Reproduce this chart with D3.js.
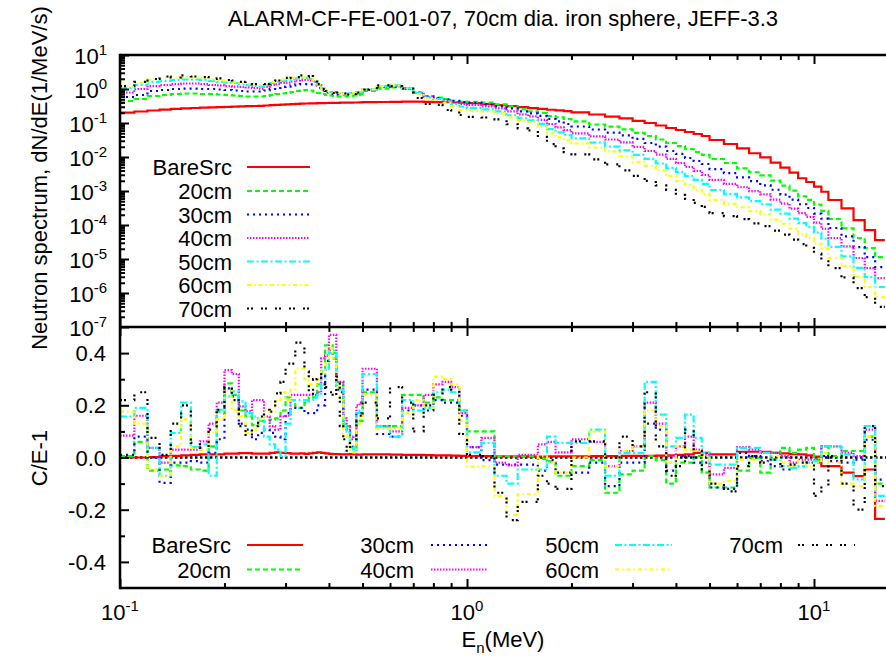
<!DOCTYPE html>
<html><head><meta charset="utf-8">
<script src="https://cdn.jsdelivr.net/npm/d3@7"></script>
<style>
body{margin:0;background:#fff}
text{font-family:"Liberation Sans",Arial,Helvetica,sans-serif;fill:#000}
</style>
</head><body>
<svg id="c" width="886" height="660"></svg>
<script>
// ---------------- DATA ----------------
const title = "ALARM-CF-FE-001-07, 70cm dia. iron sphere, JEFF-3.3";
const seriesNames = ["BareSrc","20cm","30cm","40cm","50cm","60cm","70cm"];
// energy bin edges (MeV)
const edges = [0.10,0.11,0.12,0.13,0.14,0.15,0.16,0.17,0.18,0.19,
0.20,0.21,0.22,0.23,0.24,0.25,0.26,0.27,0.28,0.29,
0.30,0.31,0.32,0.33,0.34,0.35,0.36,0.37,0.38,0.39,
0.40,0.41,0.42,0.43,0.44,0.45,0.46,0.47,0.48,0.49,
0.50,0.55,0.60,0.65,0.70,0.75,0.80,0.85,0.90,0.95,
1.0,1.1,1.2,1.3,1.4,1.5,1.6,1.7,1.8,1.9,
2.0,2.25,2.5,2.75,3.0,3.25,3.5,3.75,4.0,4.25,4.5,4.75,
5.0,5.5,6.0,6.5,7.0,7.5,8.0,8.5,9.0,9.5,
10,10.5,11,12,13,14,15,16];

// neutron spectrum dN/dE (1/MeV/s), one value per bin
const specBareSrc = [0.201,0.218,0.233,0.249,0.261,0.27,0.276,0.282,0.288,0.294,0.3,0.304,0.308,0.312,0.316,0.32,0.327,0.334,0.34,0.348,0.355,0.36,0.365,0.37,0.375,0.378,0.38,0.383,0.385,0.388,0.39,0.393,0.393,0.395,0.395,0.398,0.398,0.401,0.401,0.404,
0.41,0.415,0.42,0.424,0.424,0.418,0.412,0.407,0.401,0.398,
0.385,0.36,0.335,0.315,0.295,0.275,0.26,0.245,0.235,0.222,
0.204,0.178,0.155,0.136,0.115,0.100,0.0844,0.0713,0.0622,0.0543,0.0474,0.0415,
0.0316,0.0241,0.018,0.0129,0.0098,0.0068,0.00484,0.00345,0.00237,0.00184,
0.00134,0.00095,0.000543,0.000309,0.00014,7.1e-5,3.6e-5];
const spec20cm = [0.444,0.508,0.622,0.666,0.713,0.737,0.737,0.713,0.713,0.689,0.666,0.644,0.622,0.602,0.602,0.602,0.622,0.666,0.713,0.737,0.763,0.816,0.873,0.903,0.935,0.903,0.844,0.763,0.713,0.666,0.644,0.622,0.602,0.602,0.602,0.622,0.622,0.644,0.666,0.689,
0.873,1.03,1.11,1.0,0.763,0.622,0.562,0.508,0.459,0.429,
0.42,0.40,0.353,0.31,0.253,0.22,0.198,0.16,0.146,0.131,
0.111,0.0904,0.0787,0.0646,0.0511,0.0415,0.0327,0.0258,0.021,0.0172,0.014,0.0115,
0.00872,0.00665,0.00464,0.00356,0.0029,0.00201,0.00143,0.00102,0.000702,0.000545,
0.000397,0.000262,0.00015,7.97e-5,4.14e-5,2.1e-5,1.14e-5];
const spec30cm = [0.582,0.666,0.873,0.935,1.0,1.03,1.03,1.0,1.0,0.967,0.935,0.903,0.873,0.844,0.844,0.844,0.903,1.0,1.07,1.15,1.18,1.27,1.36,1.40,1.40,1.36,1.27,1.07,0.903,0.789,0.737,0.713,0.689,0.689,0.689,0.713,0.713,0.737,0.737,0.763,
0.935,1.15,1.18,1.03,0.789,0.602,0.544,0.491,0.444,0.415,
0.39,0.35,0.309,0.271,0.221,0.193,0.162,0.131,0.112,0.0934,
0.079,0.0644,0.0524,0.043,0.034,0.0258,0.0203,0.015,0.0123,0.00934,0.00763,0.00623,
0.00442,0.00337,0.00252,0.00194,0.00147,0.00109,0.00078,0.000555,0.000408,0.000316,
0.000216,0.000153,8.15e-5,4.64e-5,2.25e-5,1.14e-5,5.8e-6];
const spec40cm = [0.789,1.0,1.22,1.31,1.40,1.45,1.45,1.40,1.31,1.27,1.22,1.18,1.15,1.11,1.07,1.03,1.15,1.31,1.40,1.50,1.55,1.66,1.78,1.84,1.84,1.78,1.61,1.31,1.03,0.873,0.816,0.789,0.763,0.737,0.737,0.737,0.763,0.763,0.789,0.789,
0.967,1.18,1.22,1.07,0.789,0.582,0.526,0.475,0.415,0.362,
0.34,0.306,0.269,0.221,0.18,0.157,0.124,0.0929,0.0743,0.0621,
0.0492,0.0402,0.0327,0.0268,0.0198,0.015,0.0118,0.00877,0.00666,0.00508,0.00387,0.00296,
0.00211,0.00161,0.00129,0.000986,0.000801,0.000556,0.000424,0.000302,0.000222,0.000172,
0.000117,7.76e-5,4.15e-5,2.36e-5,1.07e-5,5.4e-6,2.75e-6];
const spec50cm = [1.07,1.31,1.61,1.72,1.84,1.90,1.90,1.84,1.72,1.61,1.55,1.50,1.40,1.31,1.22,1.18,1.31,1.50,1.61,1.72,1.78,1.90,2.04,2.11,2.11,1.97,1.72,1.36,1.03,0.873,0.816,0.789,0.763,0.737,0.737,0.737,0.763,0.763,0.789,0.789,
0.967,1.22,1.27,1.07,0.763,0.562,0.508,0.429,0.362,0.306,
0.278,0.25,0.22,0.169,0.138,0.12,0.0941,0.0662,0.0531,0.0443,
0.0351,0.0267,0.0203,0.0156,0.0115,0.00875,0.00645,0.00476,0.00363,0.00276,0.00211,0.00161,
0.00107,0.00082,0.000653,0.000502,0.000408,0.000283,0.000215,0.000154,0.000113,8.76e-5,
5.96e-5,3.95e-5,2.26e-5,1.2e-5,5.45e-6,2.95e-6,1.5e-6];
const spec60cm = [1.18,1.50,1.90,2.04,2.18,2.25,2.18,2.04,1.90,1.78,1.66,1.61,1.50,1.40,1.36,1.31,1.40,1.61,1.78,1.90,1.97,2.11,2.18,2.25,2.25,2.11,1.78,1.36,1.03,0.873,0.816,0.789,0.763,0.737,0.713,0.713,0.737,0.763,0.763,0.789,
0.967,1.22,1.27,1.03,0.713,0.544,0.475,0.388,0.306,0.241,
0.227,0.218,0.192,0.147,0.12,0.104,0.077,0.0506,0.0378,0.0315,
0.0251,0.019,0.0145,0.0104,0.00718,0.00545,0.00402,0.00277,0.00197,0.0015,0.00107,0.000822,
0.000547,0.000417,0.000333,0.000255,0.000208,0.000144,0.000109,7.8e-5,5.36e-5,4.16e-5,
2.84e-5,2.01e-5,1.08e-5,6.1e-6,2.97e-6,1.5e-6,7.6e-7];
const spec70cm = [1.22,1.61,1.97,2.33,2.18,2.50,2.33,2.25,1.97,2.04,1.84,1.78,1.61,1.66,1.40,1.45,1.40,1.72,1.78,2.11,2.11,2.33,2.25,2.50,2.25,2.41,1.84,1.40,1.0,0.873,0.816,0.763,0.789,0.713,0.737,0.689,0.763,0.713,0.789,0.763,
0.967,1.27,1.22,1.03,0.544,0.362,0.34,0.241,0.233,0.172,
0.151,0.145,0.128,0.0918,0.0699,0.061,0.039,0.024,0.018,0.014,
0.0119,0.00847,0.00603,0.00404,0.00278,0.00198,0.00146,0.00108,0.000765,0.000581,0.000446,0.00034,
0.000224,0.000183,0.000148,0.000112,9.21e-5,6.8e-5,5.18e-5,3.69e-5,2.73e-5,2.12e-5,
1.43e-5,9.5e-6,5.4e-6,2.9e-6,1.4e-6,7.6e-7,3.9e-7];

// C/E-1, one value per bin
const ceBareSrc = [0.0,0.0,0.002,0.005,0.006,0.008,0.01,0.012,0.012,0.012,
0.015,0.015,0.017,0.017,0.015,0.015,0.015,0.018,0.02,0.018,
0.017,0.015,0.015,0.016,0.014,0.016,0.018,0.02,0.018,0.016,
0.014,0.013,0.013,0.012,0.012,0.012,0.013,0.012,0.011,0.011,
0.012,0.012,0.011,0.01,0.01,0.009,0.008,0.008,0.007,0.006,
0.005,0.005,0.004,0.004,0.004,0.003,0.003,0.004,0.004,0.004,
0.004,0.005,0.005,0.006,0.006,0.006,0.007,0.008,0.01,0.012,0.018,0.018,
0.012,0.012,0.022,0.022,0.022,0.018,0.016,0.013,0.012,0.008,
0.003,-0.033,-0.033,-0.058,-0.071,-0.046,-0.235];
const ce20cm = [0.005,0.06,-0.05,-0.046,-0.03,-0.033,-0.046,-0.05,0.043,0.176,
0.284,0.24,0.18,0.157,0.124,0.14,0.138,0.145,0.15,0.18,
0.23,0.22,0.19,0.19,0.21,0.23,0.23,0.28,0.28,0.43,
0.43,0.40,0.29,0.29,0.13,0.12,0.04,0.03,0.14,0.14,
0.25,0.12,0.12,0.24,0.24,0.21,0.23,0.22,0.22,0.18,
0.10,0.10,0.005,0.005,0.005,0.005,-0.005,-0.015,-0.07,-0.07,
-0.033,-0.01,-0.135,-0.065,-0.05,0.005,-0.01,-0.1,-0.02,-0.02,0.005,-0.058,
-0.115,-0.115,-0.05,-0.001,-0.058,0.018,0.037,0.018,0.03,0.037,
-0.008,0.043,0.005,0.025,0.025,0.08,-0.1];
const ce30cm = [0.01,0.08,0.0,-0.097,-0.02,-0.02,-0.014,-0.02,0.018,0.07,
0.265,0.234,0.13,0.107,0.07,0.094,0.107,0.094,0.08,0.07,
0.17,0.19,0.19,0.19,0.17,0.17,0.17,0.20,0.20,0.37,
0.41,0.38,0.26,0.25,0.11,0.10,0.05,0.04,0.17,0.17,
0.26,0.09,0.08,0.18,0.20,0.18,0.22,0.21,0.21,0.16,
0.04,-0.01,-0.027,-0.027,-0.027,-0.027,-0.05,-0.01,-0.058,-0.058,
-0.058,-0.02,-0.11,-0.02,-0.02,0.13,0.107,-0.05,0.005,0.005,-0.02,-0.02,
-0.115,-0.12,0.018,0.005,-0.014,-0.033,-0.046,-0.04,-0.033,-0.02,
-0.02,0.005,-0.014,-0.02,-0.008,0.068,-0.085];
const ce40cm = [0.084,0.16,0.037,-0.02,0.03,0.03,0.03,0.062,0.13,0.21,
0.335,0.32,0.196,0.177,0.22,0.22,0.157,0.12,0.107,0.157,
0.16,0.24,0.24,0.24,0.24,0.24,0.24,0.25,0.38,0.39,
0.47,0.47,0.29,0.29,0.15,0.12,0.07,0.08,0.20,0.21,
0.34,0.12,0.10,0.19,0.20,0.24,0.28,0.29,0.27,0.17,
0.04,0.075,-0.02,-0.03,0.01,0.01,0.05,0.06,0.02,0.02,
0.07,0.06,-0.033,0.025,0.043,0.21,0.13,0.005,0.043,0.08,0.03,0.01,
-0.065,-0.04,0.04,0.03,0.018,0.018,0.005,-0.02,-0.008,-0.008,
-0.008,0.043,0.043,0.018,0.005,0.107,-0.166];
const ce50cm = [0.157,0.19,0.037,-0.07,0.094,0.21,0.04,0.05,-0.07,0.183,
0.234,0.253,0.215,0.17,0.157,0.14,0.08,0.05,0.03,0.005,
0.13,0.22,0.22,0.22,0.22,0.22,0.23,0.24,0.33,0.34,
0.40,0.41,0.27,0.26,0.13,0.10,0.04,0.03,0.17,0.18,
0.32,0.12,0.08,0.22,0.18,0.19,0.25,0.26,0.25,0.18,
0.02,0.056,-0.07,-0.10,-0.046,-0.046,-0.046,0.08,0.056,0.056,
0.056,0.107,-0.07,0.018,0.018,0.29,0.164,0.043,0.075,0.164,0.075,0.018,
-0.027,-0.027,0.037,0.037,0.018,-0.008,-0.033,-0.04,-0.033,-0.02,
-0.014,0.043,0.043,0.012,-0.084,0.12,-0.147];
const ce60cm = [0.176,0.13,-0.046,-0.07,0.043,0.146,0.037,0.03,0.094,0.146,
0.26,0.183,0.157,0.094,0.107,0.15,0.18,0.176,0.215,0.25,
0.22,0.26,0.34,0.34,0.30,0.28,0.28,0.30,0.33,0.36,
0.42,0.38,0.27,0.22,0.09,0.08,0.03,0.02,0.13,0.15,
0.24,0.11,0.11,0.17,0.22,0.19,0.31,0.30,0.28,0.14,
-0.035,-0.033,-0.147,-0.22,-0.14,-0.14,0.005,-0.02,-0.058,-0.058,
0.0,0.10,-0.033,0.025,0.043,0.18,0.12,-0.02,0.043,0.03,0.025,0.005,
-0.1,-0.09,-0.008,-0.008,-0.02,0.005,-0.02,-0.033,-0.014,-0.033,
-0.02,0.018,-0.02,-0.1,-0.11,0.08,-0.185];
const ce70cm = [0.22,0.25,0.075,0.01,0.13,0.2,0.056,0.037,0.107,0.183,
0.27,0.22,0.12,0.08,0.12,0.157,0.183,0.176,0.246,0.29,
0.36,0.36,0.44,0.44,0.33,0.24,0.30,0.32,0.30,0.27,
0.25,0.23,0.31,0.12,0.07,0.02,0.06,0.07,0.16,0.16,
0.21,0.15,0.27,0.21,0.10,0.20,0.24,0.27,0.26,0.09,
0.01,0.005,-0.135,-0.24,-0.17,-0.17,-0.07,-0.10,-0.12,-0.12,
0.062,0.062,0.0,0.08,0.043,0.25,0.043,-0.07,-0.033,0.107,0.025,-0.046,
-0.1,-0.13,-0.033,0.005,-0.02,-0.008,-0.033,-0.027,-0.02,-0.02,
-0.147,-0.11,0.005,-0.1,-0.2,0.12,-0.11];

// tick labels
const xTickExps = [-1, 0, 1];
const yTopTickExps = [-7,-6,-5,-4,-3,-2,-1,0,1];
const yBotTicks = [-0.4,-0.2,0.0,0.2,0.4];
const yBotTickLabels = ["-0.4","-0.2","0.0","0.2","0.4"];

// ---------------- STYLE ----------------
const colors = ["#ff0000","#00ff00","#0000ff","#ff00ff","#00ffff","#ffff00","#000000"];
const dashes = [null,"5,3","2,4","1.5,1.5","7,2.5,2,2.5","4,3,1.5,3","2,2,2,8"];
const FONT = 22;
const LW = 2.2;

const specs = [specBareSrc,spec20cm,spec30cm,spec40cm,spec50cm,spec60cm,spec70cm];
const ces = [ceBareSrc,ce20cm,ce30cm,ce40cm,ce50cm,ce60cm,ce70cm];

const svg = d3.select("#c");
const L = 120, T = 55, MID = 327, B = 588;
const x = d3.scaleLog().domain([0.1, 20]).range([L, L + 347*Math.log10(200)]);
const R = x.range()[1];
const yTop = d3.scaleLog().domain([1e-7, 10]).range([MID, T]);
const yBot = d3.scaleLinear().domain([-0.5, 0.5]).range([B, MID]);

const defs = svg.append("defs");
defs.append("clipPath").attr("id","clipTop").append("rect").attr("x",L).attr("y",T).attr("width",R-L).attr("height",MID-T);
defs.append("clipPath").attr("id","clipBot").append("rect").attr("x",L).attr("y",MID).attr("width",R-L).attr("height",B-MID);

function stepPoints(vals){
  const pts = vals.map((v,i)=>[edges[i], v]);
  pts.push([edges[vals.length], vals[vals.length-1]]);
  return pts;
}

// zero line in ratio panel
const gBot = svg.append("g").attr("clip-path","url(#clipBot)");
gBot.append("path")
  .attr("d", d3.line().x(d=>x(d)).y(()=>yBot(0))([0.1, 20]))
  .attr("stroke","#000").attr("stroke-width",2.4).attr("stroke-dasharray","2.5,2.5").attr("fill","none");

const gTop = svg.append("g").attr("clip-path","url(#clipTop)");
const lineTop = d3.line().x(d=>x(d[0])).y(d=>yTop(d[1])).curve(d3.curveStepAfter);
const lineBot = d3.line().x(d=>x(d[0])).y(d=>yBot(d[1])).curve(d3.curveStepAfter);
specs.forEach((s,k)=>{
  gTop.append("path").attr("d", lineTop(stepPoints(s)))
    .attr("fill","none").attr("stroke",colors[k]).attr("stroke-width",LW)
    .attr("stroke-dasharray",dashes[k]);
});
ces.forEach((s,k)=>{
  gBot.append("path").attr("d", lineBot(stepPoints(s)))
    .attr("fill","none").attr("stroke",colors[k]).attr("stroke-width",LW)
    .attr("stroke-dasharray",dashes[k]);
});

// ---------------- AXES / TICKS ----------------
const xAll = x.ticks().filter(v=>v>=0.1 && v<=20);
const isPow = v => Math.abs(Math.log10(v) - Math.round(Math.log10(v))) < 1e-6;
const xMaj = xAll.filter(isPow), xMin = xAll.filter(v=>!isPow(v));
function styleAxis(g){ g.select(".domain").remove(); g.selectAll("line").attr("stroke","#000").attr("stroke-width",2); g.selectAll("text").remove(); }
function xTicksAt(yPos, gen, size){
  svg.append("g").attr("transform",`translate(0,${yPos})`).call(gen(x).tickValues(xMaj).tickSize(size).tickFormat("")).call(styleAxis);
  svg.append("g").attr("transform",`translate(0,${yPos})`).call(gen(x).tickValues(xMin).tickSize(size*0.55).tickFormat("")).call(styleAxis);
}
xTicksAt(T, d3.axisTop, -9);
xTicksAt(MID, d3.axisBottom, -9);
xTicksAt(MID, d3.axisTop, -9);
xTicksAt(B, d3.axisBottom, -9);

const yTopAll = yTop.ticks();
const yTopMaj = yTopAll.filter(isPow), yTopMin = yTopAll.filter(v=>!isPow(v));
svg.append("g").attr("transform",`translate(${L},0)`).call(d3.axisLeft(yTop).tickValues(yTopMaj).tickSize(-9).tickFormat("")).call(styleAxis);
svg.append("g").attr("transform",`translate(${L},0)`).call(d3.axisLeft(yTop).tickValues(yTopMin).tickSize(-5).tickFormat("")).call(styleAxis);
const yBotMin = [-0.3,-0.1,0.1,0.3];
svg.append("g").attr("transform",`translate(${L},0)`).call(d3.axisLeft(yBot).tickValues(yBotTicks).tickSize(-9).tickFormat("")).call(styleAxis);
svg.append("g").attr("transform",`translate(${L},0)`).call(d3.axisLeft(yBot).tickValues(yBotMin).tickSize(-5).tickFormat("")).call(styleAxis);

// frame
const frame = svg.append("g").attr("stroke","#000").attr("stroke-width",2.5).attr("fill","none");
frame.append("line").attr("x1",L).attr("x2",R).attr("y1",T).attr("y2",T);
frame.append("line").attr("x1",L).attr("x2",R).attr("y1",MID).attr("y2",MID);
frame.append("line").attr("x1",L).attr("x2",R).attr("y1",B).attr("y2",B);
frame.append("line").attr("x1",L).attr("x2",L).attr("y1",T-1.25).attr("y2",B+1.25);

// tick labels
yTopTickExps.forEach(e=>{
  const t = svg.append("text").attr("x",107).attr("y",yTop(Math.pow(10,e))+9).attr("text-anchor","end").attr("font-size",FONT);
  t.append("tspan").text("10");
  t.append("tspan").attr("font-size",15).attr("dy",-9).text(e);
});
yBotTicks.forEach((v,i)=>{
  svg.append("text").attr("x",106).attr("y",yBot(v)+8).attr("text-anchor","end").attr("font-size",FONT).text(yBotTickLabels[i]);
});
xTickExps.forEach(e=>{
  const t = svg.append("text").attr("x",x(Math.pow(10,e))).attr("y",620).attr("text-anchor","middle").attr("font-size",FONT);
  t.append("tspan").text("10");
  t.append("tspan").attr("font-size",15).attr("dy",-9).text(e);
});

// titles
svg.append("text").attr("x",503).attr("y",26).attr("text-anchor","middle").attr("font-size",FONT).text(title);
const xt = svg.append("text").attr("x",503).attr("y",647).attr("text-anchor","middle").attr("font-size",FONT);
xt.append("tspan").text("E");
xt.append("tspan").attr("font-size",15).attr("dy",6).text("n");
xt.append("tspan").attr("dy",-6).text("(MeV)");
svg.append("text").attr("transform","translate(47,178) rotate(-90)").attr("text-anchor","middle").attr("font-size",FONT).text("Neutron spectrum, dN/dE(1/MeV/s)");
svg.append("text").attr("transform","translate(47,458) rotate(-90)").attr("text-anchor","middle").attr("font-size",FONT).text("C/E-1");

// legends
const topRows = [167,191,214.5,238,261.5,285,308.5];
seriesNames.forEach((n,k)=>{
  svg.append("text").attr("x",232).attr("y",topRows[k]+8).attr("text-anchor","end").attr("font-size",FONT).text(n);
  svg.append("line").attr("x1",247).attr("x2",310).attr("y1",topRows[k]).attr("y2",topRows[k])
    .attr("stroke",colors[k]).attr("stroke-width",LW).attr("stroke-dasharray",dashes[k]);
});
const botCols = [[231,247,303],[414,431,487],[599,615,672],[783,798,855]];
const botRows = [545,569.5];
seriesNames.forEach((n,k)=>{
  const c = botCols[Math.floor(k/2)], r = botRows[k%2];
  svg.append("text").attr("x",c[0]).attr("y",r+8).attr("text-anchor","end").attr("font-size",FONT).text(n);
  svg.append("line").attr("x1",c[1]).attr("x2",c[2]).attr("y1",r).attr("y2",r)
    .attr("stroke",colors[k]).attr("stroke-width",LW).attr("stroke-dasharray",dashes[k]);
});
</script>
</body></html>
